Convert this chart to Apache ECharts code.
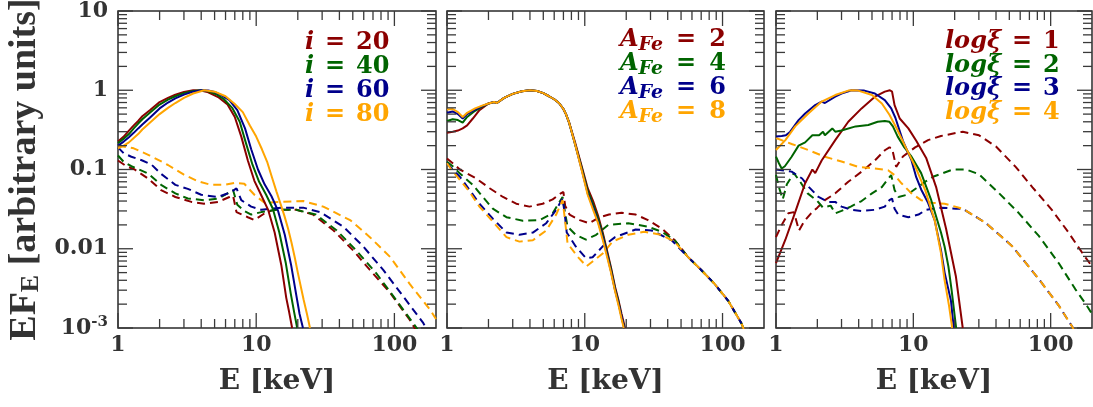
<!DOCTYPE html>
<html><head><meta charset="utf-8">
<script src="https://cdn.jsdelivr.net/npm/echarts/dist/echarts.min.js"></script>
<style>html,body{margin:0;padding:0;background:#fff}#c{width:1093px;height:407px}</style>
</head><body><div id="c"></div>
<script>
// ---------------- axis definitions ----------------
const X_MIN = 1, X_MAX = 200, Y_MIN = 0.001, Y_MAX = 10;
const X_MAJOR = [1, 10, 100];
const X_TICK_LABELS = ['1', '10', '100'];
const X_MINOR = [2,3,4,5,6,7,8,9,20,30,40,50,60,70,80,90];
const Y_MAJOR = [0.001, 0.01, 0.1, 1, 10];
const Y_TICK_LABELS = ['10^-3', '0.01', '0.1', '1', '10'];
const Y_MINOR = [0.002,0.003,0.004,0.005,0.006,0.007,0.008,0.009,
                 0.02,0.03,0.04,0.05,0.06,0.07,0.08,0.09,
                 0.2,0.3,0.4,0.5,0.6,0.7,0.8,0.9,
                 2,3,4,5,6,7,8,9];

// ---------------- panel 1 : inclination i ----------------
const P1_LABELS = ['20', '40', '60', '80'];
const P1_I20_SOLID = [[1,0.225],[1.1,0.26],[1.2,0.31],[1.3,0.36],[1.4,0.41],[1.5,0.47],[1.7,0.56],[2,0.71],[2.3,0.8],[2.6,0.88],[3,0.95],[3.5,1.0],[4,0.99],[4.5,0.94],[5.3,0.82],[6.2,0.66],[7,0.46],[7.8,0.26],[8.7,0.13],[9.7,0.072],[10.9,0.047],[12.2,0.031],[13.6,0.016],[15.2,0.0062],[16.5,0.0024],[17.3,0.0016],[18.2,0.001]];
const P1_I40_SOLID = [[1,0.215],[1.1,0.245],[1.2,0.28],[1.3,0.33],[1.4,0.38],[1.5,0.43],[1.7,0.52],[2,0.66],[2.3,0.76],[2.6,0.84],[3,0.92],[3.5,0.98],[4,1.0],[4.5,0.97],[5.2,0.88],[5.8,0.78],[6.7,0.6],[7.6,0.4],[8.4,0.22],[9.4,0.115],[10.5,0.07],[11.8,0.048],[13.2,0.032],[14.7,0.016],[16.4,0.0065],[17.8,0.0027],[18.8,0.0016],[19.8,0.001]];
const P1_I60_SOLID = [[1,0.2],[1.1,0.225],[1.2,0.255],[1.3,0.29],[1.4,0.33],[1.5,0.37],[1.7,0.45],[2,0.59],[2.3,0.7],[2.6,0.79],[3,0.88],[3.5,0.96],[4,1.0],[4.5,0.99],[5,0.95],[5.6,0.87],[6.4,0.75],[7.3,0.56],[8.3,0.33],[9.2,0.18],[10.3,0.1],[11.5,0.065],[12.9,0.046],[14.4,0.03],[16.1,0.015],[17.9,0.0062],[19.5,0.0026],[20.6,0.0015],[21.8,0.001]];
const P1_I80_SOLID = [[1,0.185],[1.1,0.2],[1.2,0.22],[1.3,0.25],[1.4,0.28],[1.5,0.32],[1.7,0.39],[2,0.5],[2.3,0.6],[2.6,0.69],[3,0.8],[3.5,0.91],[4.2,1.0],[5,0.96],[6,0.84],[7,0.67],[8,0.53],[9,0.36],[10,0.26],[11,0.18],[12,0.125],[13,0.08],[14,0.053],[15,0.037],[16,0.026],[17,0.018],[18,0.012],[19,0.0078],[20,0.005],[22,0.0023],[23.3,0.0015],[24.5,0.001]];
const P1_I20_DASH = [[1,0.13],[1.15,0.11],[1.32,0.1],[1.65,0.077],[2.05,0.055],[2.6,0.045],[3.4,0.039],[4.2,0.037],[5.3,0.039],[6.4,0.045],[6.8,0.047],[7.2,0.029],[8.7,0.025],[9.7,0.023],[11.5,0.028],[13.3,0.031],[19.6,0.031],[25.8,0.027],[36.3,0.017],[50.4,0.0095],[66.5,0.0054],[93,0.0028],[129,0.00127],[140,0.001],[150,0.0008]];
const P1_I40_DASH = [[1,0.15],[1.1,0.125],[1.25,0.11],[1.65,0.089],[2.05,0.064],[2.6,0.05],[3.2,0.043],[4.2,0.041],[5.3,0.043],[6.2,0.05],[6.8,0.055],[7.3,0.036],[8.2,0.03],[9.2,0.027],[10.9,0.029],[14,0.031],[19.4,0.031],[27,0.027],[38.3,0.017],[53,0.0095],[74,0.0049],[104,0.0022],[145,0.001],[160,0.0007]];
const P1_I60_DASH = [[1,0.19],[1.1,0.16],[1.25,0.145],[1.5,0.13],[1.75,0.115],[2.05,0.088],[2.6,0.064],[3.2,0.057],[4,0.048],[5.3,0.045],[6.6,0.052],[7.2,0.058],[7.8,0.041],[9.2,0.034],[10.9,0.031],[13,0.032],[15.7,0.033],[21.9,0.033],[29,0.029],[42.7,0.019],[59.5,0.0107],[83,0.0054],[116,0.0025],[162,0.00115],[175,0.0009]];
const P1_I80_DASH = [[1,0.2],[1.3,0.185],[1.7,0.15],[2.3,0.114],[3,0.086],[3.8,0.071],[4.7,0.064],[5.9,0.064],[7,0.068],[8.2,0.066],[9.7,0.048],[11.5,0.038],[14.8,0.039],[21.9,0.04],[30.6,0.034],[47.8,0.023],[66.5,0.014],[93,0.0079],[129,0.0036],[181,0.0017],[200,0.0013]];

// ---------------- panel 2 : iron abundance A_Fe ----------------
const P2_LABELS = ['2', '4', '6', '8'];
const P2_A2_SOLID = [[1,0.29],[1.1,0.3],[1.2,0.31],[1.3,0.33],[1.4,0.36],[1.54,0.44],[1.72,0.56],[2,0.68],[2.2,0.71],[2.3,0.69],[2.6,0.8],[3,0.9],[3.5,0.97],[4,1.0],[4.5,0.98],[5,0.92],[5.5,0.84],[6,0.77],[6.5,0.69],[7,0.58],[7.3,0.5],[7.7,0.39],[8.5,0.22],[9.5,0.11],[10.5,0.058],[11.5,0.04],[12.5,0.026],[13.5,0.016],[14.5,0.0095],[15.5,0.0058],[16.6,0.0033],[17.5,0.0023],[18.5,0.0015],[19.6,0.001]];
const P2_A4_SOLID = [[1,0.41],[1.1,0.43],[1.2,0.42],[1.3,0.39],[1.4,0.46],[1.6,0.55],[1.8,0.62],[2,0.68],[2.2,0.71],[2.3,0.69],[2.6,0.8],[3,0.9],[3.5,0.97],[4,1.0],[4.5,0.98],[5,0.92],[5.5,0.84],[6,0.77],[6.5,0.69],[7,0.58],[7.3,0.5],[7.7,0.39],[8.5,0.21],[9.5,0.105],[10.5,0.054],[11.5,0.036],[12.5,0.024],[13.5,0.015],[14.5,0.009],[15.5,0.0055],[16.6,0.0031],[17.5,0.0022],[18.5,0.0014],[19.4,0.001]];
const P2_A6_SOLID = [[1,0.52],[1.1,0.54],[1.2,0.5],[1.3,0.44],[1.4,0.5],[1.6,0.57],[1.8,0.63],[2,0.68],[2.2,0.71],[2.3,0.69],[2.6,0.8],[3,0.9],[3.5,0.97],[4,1.0],[4.5,0.98],[5,0.92],[5.5,0.84],[6,0.77],[6.5,0.69],[7,0.58],[7.3,0.5],[7.7,0.39],[8.5,0.21],[9.5,0.1],[10.5,0.05],[11.5,0.033],[12.5,0.022],[13.5,0.014],[14.5,0.0085],[15.5,0.0052],[16.6,0.003],[17.5,0.0021],[18.5,0.0014],[19.3,0.001]];
const P2_A8_SOLID = [[1,0.57],[1.1,0.58],[1.2,0.53],[1.3,0.46],[1.4,0.52],[1.6,0.59],[1.8,0.64],[2,0.68],[2.2,0.71],[2.3,0.69],[2.6,0.8],[3,0.9],[3.5,0.97],[4,1.0],[4.5,0.98],[5,0.92],[5.5,0.84],[6,0.77],[6.5,0.69],[7,0.58],[7.3,0.5],[7.7,0.39],[8.5,0.21],[9.5,0.098],[10.5,0.048],[11.5,0.031],[12.5,0.021],[13.5,0.013],[14.5,0.008],[15.5,0.005],[16.6,0.0029],[17.5,0.002],[18.5,0.0013],[19.2,0.001]];
const P2_A2_DASH = [[1,0.138],[1.1,0.12],[1.24,0.1],[1.63,0.077],[2.04,0.058],[2.55,0.045],[3.18,0.037],[3.97,0.034],[4.95,0.037],[5.85,0.042],[6.7,0.05],[7.0,0.052],[7.2,0.035],[7.75,0.027],[9.2,0.023],[10.8,0.021],[12.8,0.025],[15,0.027],[18.5,0.0285],[23.4,0.027],[28.8,0.023],[36.2,0.018],[45,0.0128],[56,0.0079],[70,0.0054],[87.6,0.0036],[110,0.0022],[137,0.00115],[145,0.0009]];
const P2_A4_DASH = [[1,0.125],[1.1,0.11],[1.24,0.089],[1.54,0.064],[1.82,0.045],[2.15,0.032],[2.7,0.025],[3.55,0.0226],[4.7,0.023],[5.85,0.028],[6.5,0.038],[6.9,0.045],[7.15,0.03],[7.5,0.019],[8.6,0.015],[10.2,0.013],[12.1,0.015],[14.8,0.02],[20.7,0.021],[28.8,0.019],[36.2,0.0164],[45,0.0128],[56,0.0079],[70,0.0054],[87.6,0.0036],[110,0.0022],[137,0.00115],[145,0.0009]];
const P2_A6_DASH = [[1,0.12],[1.1,0.1],[1.24,0.081],[1.46,0.055],[1.72,0.037],[2.15,0.024],[2.7,0.016],[3.36,0.015],[4.2,0.016],[5.25,0.021],[6.2,0.031],[6.9,0.043],[7.15,0.028],[7.4,0.016],[8.6,0.0107],[10.2,0.0076],[11.4,0.0078],[13.5,0.0107],[16.6,0.014],[23.4,0.0175],[30.6,0.017],[42.7,0.0128],[56,0.0079],[70,0.0054],[87.6,0.0036],[110,0.0022],[137,0.00115],[145,0.0009]];
const P2_A8_DASH = [[1,0.12],[1.1,0.095],[1.24,0.074],[1.46,0.052],[1.72,0.034],[2.15,0.022],[2.7,0.014],[3.36,0.0123],[4.2,0.0128],[5.25,0.017],[6.2,0.027],[6.9,0.041],[7.15,0.025],[7.5,0.0117],[8.9,0.0079],[10.3,0.006],[11.4,0.0069],[13.5,0.0087],[15.9,0.0123],[20.7,0.015],[27,0.0164],[36.2,0.015],[45,0.0122],[56,0.0079],[70,0.0054],[87.6,0.0036],[110,0.0022],[137,0.00115],[145,0.0009]];

// ---------------- panel 3 : ionisation log xi ----------------
const P3_LABELS = ['1', '2', '3', '4'];
const P3_X1_SOLID = [[1,0.0066],[1.17,0.013],[1.38,0.029],[1.63,0.067],[1.84,0.1],[1.93,0.09],[2.15,0.13],[2.7,0.235],[3.36,0.4],[4.2,0.59],[5.25,0.83],[6.2,0.96],[6.75,1.0],[7.0,0.96],[7.3,0.65],[7.96,0.44],[9.2,0.33],[10.5,0.23],[12.4,0.14],[14.7,0.059],[17.3,0.018],[20.4,0.0045],[22.9,0.001]];
const P3_X2_SOLID = [[1,0.145],[1.05,0.12],[1.1,0.103],[1.16,0.11],[1.3,0.145],[1.46,0.2],[1.63,0.22],[1.84,0.27],[2.06,0.27],[2.2,0.3],[2.27,0.27],[2.57,0.33],[2.7,0.3],[3.0,0.31],[3.8,0.35],[4.7,0.365],[5.5,0.4],[6.2,0.41],[6.7,0.4],[7.1,0.35],[7.7,0.26],[8.6,0.19],[9.7,0.145],[11.4,0.09],[13.5,0.041],[15.9,0.016],[16.9,0.0106],[18,0.006],[19,0.003],[20.5,0.001]];
const P3_X3_SOLID = [[1,0.26],[1.1,0.265],[1.18,0.27],[1.27,0.3],[1.46,0.42],[1.63,0.51],[1.93,0.65],[2.15,0.72],[2.27,0.69],[2.7,0.83],[3.0,0.91],[3.55,1.0],[4.4,0.99],[5.25,0.91],[6.2,0.75],[6.9,0.59],[7.4,0.45],[8.4,0.23],[9.7,0.13],[10.5,0.08],[11.4,0.056],[12.8,0.038],[14.3,0.023],[15.9,0.0096],[16.9,0.005],[18.8,0.0022],[19.7,0.001]];
const P3_X4_SOLID = [[1,0.176],[1.17,0.235],[1.38,0.35],[1.72,0.51],[2.15,0.72],[2.7,0.87],[3.36,0.99],[3.6,1.0],[3.97,0.99],[5.0,0.87],[5.9,0.68],[6.7,0.49],[7.7,0.31],[8.8,0.19],[10.3,0.11],[12.2,0.055],[14.3,0.023],[15.9,0.0088],[16.9,0.004],[18.2,0.0019],[19.2,0.001]];
const P3_X1_DASH = [[1,0.014],[1.1,0.02],[1.23,0.028],[1.35,0.029],[1.47,0.017],[1.6,0.022],[1.8,0.028],[2,0.033],[2.27,0.041],[2.7,0.05],[3.36,0.07],[4.2,0.094],[5.25,0.13],[6.2,0.175],[6.7,0.19],[7.0,0.185],[7.5,0.108],[8.4,0.146],[10.3,0.19],[12.8,0.235],[15.9,0.265],[22.9,0.3],[30.1,0.27],[40,0.195],[55.6,0.108],[73.5,0.06],[102,0.031],[135,0.016],[178,0.0079],[200,0.006]];
const P3_X2_DASH = [[1,0.085],[1.05,0.06],[1.12,0.042],[1.2,0.065],[1.35,0.09],[1.5,0.07],[1.7,0.05],[2.0,0.04],[2.2,0.033],[2.5,0.035],[2.7,0.028],[3.0,0.03],[3.5,0.034],[4.2,0.04],[5.0,0.05],[5.9,0.06],[6.5,0.075],[6.9,0.085],[7.3,0.055],[7.8,0.045],[9,0.048],[10.5,0.058],[12.5,0.072],[13.9,0.081],[19.4,0.1],[24.2,0.1],[30.1,0.087],[42.2,0.05],[58.8,0.028],[82,0.0145],[115,0.0065],[151,0.0031],[184,0.0019],[200,0.0015]];
const P3_X3_DASH = [[1,0.1],[1.3,0.094],[1.55,0.077],[1.72,0.061],[2.04,0.045],[2.4,0.039],[2.7,0.039],[3.0,0.034],[3.55,0.031],[4.2,0.03],[5.25,0.031],[6.2,0.034],[6.7,0.041],[7.0,0.043],[7.3,0.032],[7.75,0.027],[9.2,0.025],[10.9,0.027],[12.4,0.031],[15.9,0.033],[20.4,0.032],[22.9,0.032],[33.9,0.021],[52.7,0.0107],[82.4,0.0041],[115,0.0019],[143,0.00105],[150,0.0009]];
const P3_X4_DASH = [[1,0.25],[1.3,0.21],[1.72,0.176],[2.27,0.145],[3.0,0.126],[3.97,0.108],[5.25,0.103],[6.55,0.098],[7.3,0.085],[8.2,0.067],[9.7,0.05],[11.4,0.041],[13.5,0.038],[16.9,0.037],[22.9,0.032],[33.9,0.021],[52.7,0.0107],[82.4,0.0041],[115,0.0019],[143,0.00105],[150,0.0009]];

// ---------------- styling ----------------
const COLORS = ['#8b0000', '#006400', '#00008b', '#ffa500'];
const TXT = '#333333';
const SERIF = 'DejaVu Serif';
const GRIDS = [
  {left: 118, top: 11, width: 318, height: 317},
  {left: 447, top: 11, width: 317, height: 317},
  {left: 776, top: 11, width: 316, height: 317}
];
const PANELS = [
  {solid: [P1_I20_SOLID, P1_I40_SOLID, P1_I60_SOLID, P1_I80_SOLID], dash: [P1_I20_DASH, P1_I40_DASH, P1_I60_DASH, P1_I80_DASH], labels: P1_LABELS, kind: 'i'},
  {solid: [P2_A2_SOLID, P2_A4_SOLID, P2_A6_SOLID, P2_A8_SOLID], dash: [P2_A2_DASH, P2_A4_DASH, P2_A6_DASH, P2_A8_DASH], labels: P2_LABELS, kind: 'A'},
  {solid: [P3_X1_SOLID, P3_X2_SOLID, P3_X3_SOLID, P3_X4_SOLID], dash: [P3_X1_DASH, P3_X2_DASH, P3_X3_DASH, P3_X4_DASH], labels: P3_LABELS, kind: 'xi'}
];
const LEGEND_POS = [
  {x: 305, ys: [43, 67, 91, 115]},
  {x: 620, ys: [40, 64, 88, 112]},
  {x: 945, ys: [42, 66, 89, 113]}
];

function nearIdx(list, v) {
  const lv = Math.log10(v);
  return list.findIndex(m => Math.abs(Math.log10(m) - lv) < 1e-6);
}

const series = [];
PANELS.forEach((p, gi) => {
  p.solid.forEach((d, k) => series.push({
    type: 'line', xAxisIndex: gi, yAxisIndex: gi, data: d, showSymbol: false, symbol: 'none',
    lineStyle: {color: COLORS[k], width: 2}, itemStyle: {color: COLORS[k]}, z: 3, silent: true
  }));
  p.dash.forEach((d, k) => series.push({
    type: 'line', xAxisIndex: gi, yAxisIndex: gi, data: d, showSymbol: false, symbol: 'none',
    lineStyle: {color: COLORS[k], width: 2, type: [8, 5]}, itemStyle: {color: COLORS[k]}, z: 2, silent: true
  }));
});

const xAxes = GRIDS.map((g, gi) => ({
  type: 'log', logBase: 10, gridIndex: gi, min: X_MIN, max: X_MAX,
  axisLine: {show: false}, axisTick: {show: false}, splitLine: {show: false}, minorTick: {show: false},
  axisLabel: {
    margin: 6, fontFamily: SERIF, fontWeight: 'bold', fontSize: 22, color: TXT,
    showMinLabel: true, showMaxLabel: true, hideOverlap: false,
    formatter: v => { const i = nearIdx(X_MAJOR, v); return i >= 0 ? X_TICK_LABELS[i] : ''; }
  },
  name: 'E [keV]', nameLocation: 'middle', nameGap: 40,
  nameTextStyle: {fontFamily: SERIF, fontWeight: 'bold', fontSize: 28, color: TXT}
}));

const yAxes = GRIDS.map((g, gi) => ({
  type: 'log', logBase: 10, gridIndex: gi, min: Y_MIN, max: Y_MAX,
  axisLine: {show: false}, axisTick: {show: false}, splitLine: {show: false}, minorTick: {show: false},
  axisLabel: {
    show: gi === 0, margin: 10, color: TXT,
    showMinLabel: true, showMaxLabel: true, hideOverlap: false,
    formatter: v => {
      const i = nearIdx(Y_MAJOR, v);
      if (i < 0) return '';
      const s = Y_TICK_LABELS[i];
      if (s.indexOf('^') >= 0) { const q = s.split('^'); return '{b|' + q[0] + '}{s|' + q[1] + '}'; }
      return '{b|' + s + '}';
    },
    rich: {
      b: {fontFamily: SERIF, fontWeight: 'bold', fontSize: 22, color: TXT, lineHeight: 26},
      s: {fontFamily: SERIF, fontWeight: 'bold', fontSize: 15, color: TXT, lineHeight: 12, verticalAlign: 'top'}
    }
  },
  name: gi === 0 ? '{m|EF}{u|E}{m| [arbitrary units]}' : '', nameLocation: 'middle', nameGap: 74,
  nameTextStyle: {
    rich: {
      m: {fontFamily: 'Liberation Serif', fontWeight: 'bold', fontSize: 38, color: TXT, lineHeight: 38},
      u: {fontFamily: 'Liberation Serif', fontWeight: 'bold', fontSize: 26, color: TXT, lineHeight: 20, verticalAlign: 'bottom'}
    }
  }
}));

const legendEls = [];
PANELS.forEach((p, pi) => {
  p.labels.forEach((lab, k) => {
    const c = COLORS[k];
    let txt;
    if (p.kind === 'i') txt = '{v|i}{eq|=}{n|' + lab + '}';
    else if (p.kind === 'A') txt = '{v|A}{s|Fe}{eq|=}{n|' + lab + '}';
    else txt = '{v|logξ}{eq|=}{n|' + lab + '}';
    legendEls.push({
      type: 'text', x: LEGEND_POS[pi].x, y: LEGEND_POS[pi].ys[k], silent: true, z: 20,
      style: {
        text: txt, align: 'left', verticalAlign: 'middle', fill: c,
        rich: {
          v: {fontFamily: SERIF, fontStyle: 'italic', fontWeight: 'bold', fontSize: 24, fill: c, color: c, lineHeight: 30},
          s: {fontFamily: SERIF, fontStyle: 'italic', fontWeight: 'bold', fontSize: 19, fill: c, color: c, lineHeight: 12, verticalAlign: 'bottom'},
          eq: {fontFamily: SERIF, fontWeight: 'bold', fontSize: 24, fill: c, color: c, width: p.kind === 'A' ? 46 : 42, align: 'center', lineHeight: 30},
          n: {fontFamily: SERIF, fontWeight: 'bold', fontSize: 24, fill: c, color: c, lineHeight: 30}
        }
      }
    });
  });
});

const chart = echarts.init(document.getElementById('c'), null, {renderer: 'canvas'});
chart.setOption({
  animation: false,
  backgroundColor: '#ffffff',
  grid: GRIDS.map(g => Object.assign({show: true, borderColor: '#2a2a2a', borderWidth: 1.5, backgroundColor: 'transparent', containLabel: false, outerBoundsMode: 'none'}, g)),
  xAxis: xAxes,
  yAxis: yAxes,
  series: series
});

// inward ticks on all four sides, positioned through the axes' own scales
const tickEls = [];
const TSTYLE = {stroke: '#3a3a3a', lineWidth: 1.3};
GRIDS.forEach((g, gi) => {
  X_MAJOR.concat(X_MINOR).forEach(v => {
    const len = X_MAJOR.indexOf(v) >= 0 ? 15 : 9;
    const b = chart.convertToPixel({gridIndex: gi}, [v, Y_MIN]);
    const t = chart.convertToPixel({gridIndex: gi}, [v, Y_MAX]);
    tickEls.push({type: 'line', silent: true, z: 15, shape: {x1: b[0], y1: b[1], x2: b[0], y2: b[1] - len}, style: TSTYLE});
    tickEls.push({type: 'line', silent: true, z: 15, shape: {x1: t[0], y1: t[1], x2: t[0], y2: t[1] + len}, style: TSTYLE});
  });
  Y_MAJOR.concat(Y_MINOR).forEach(v => {
    const len = Y_MAJOR.indexOf(v) >= 0 ? 15 : 9;
    const l = chart.convertToPixel({gridIndex: gi}, [X_MIN, v]);
    const r = chart.convertToPixel({gridIndex: gi}, [X_MAX, v]);
    tickEls.push({type: 'line', silent: true, z: 15, shape: {x1: l[0], y1: l[1], x2: l[0] + len, y2: l[1]}, style: TSTYLE});
    tickEls.push({type: 'line', silent: true, z: 15, shape: {x1: r[0], y1: r[1], x2: r[0] - len, y2: r[1]}, style: TSTYLE});
  });
});
chart.setOption({graphic: legendEls.concat(tickEls)});
</script>
</body></html>
